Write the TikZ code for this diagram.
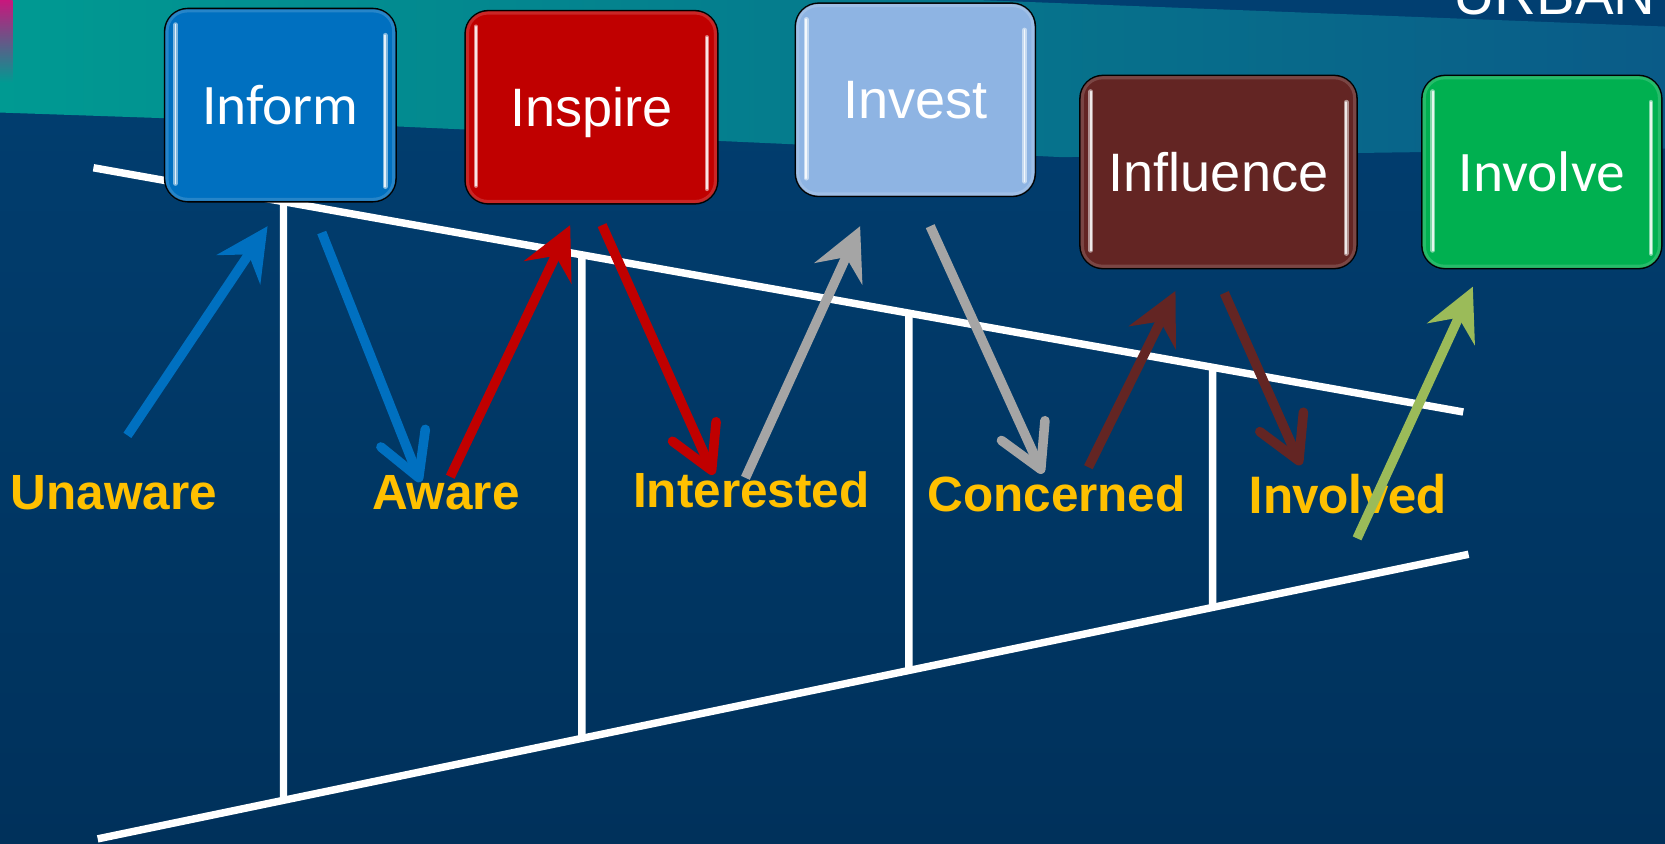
\documentclass[tikz,border=0pt]{standalone}
\usepackage{fontspec}
\setmainfont{Liberation Sans}
\newfontfamily\calibri{Carlito}
\usetikzlibrary{arrows.meta,calc}

\definecolor{navytop}{HTML}{013F71}
\definecolor{navybot}{HTML}{00315B}
\definecolor{tealleft}{HTML}{009A92}
\definecolor{tealmid}{HTML}{007C86}
\definecolor{tealright}{HTML}{0A5B88}
\definecolor{pinkbar}{HTML}{C8177D}
\definecolor{informblue}{HTML}{0070C0}
\definecolor{inspirered}{HTML}{C00000}
\definecolor{investblue}{HTML}{8EB4E3}
\definecolor{influencebrown}{HTML}{632523}
\definecolor{involvegreen}{HTML}{00B050}
\definecolor{arrowgray}{HTML}{A5A5A5}
\definecolor{arrowgreen}{HTML}{9BBB59}
\definecolor{stagegold}{HTML}{FFC000}

\begin{document}
\begin{tikzpicture}[x=0.2mm,y=-0.2mm]
        \tikzstyle{every node}+=[inner sep=0pt]
        \tikzstyle{stagebox}=[draw=black, line width=0.3mm, rounded corners=4.4mm, minimum height=36.4mm, text=white, font=\fontsize{29}{30}\selectfont, text height=20.5pt, text depth=0pt]
        \tikzstyle{glint}=[line width=0.9mm, line cap=round]
        \tikzstyle{stagelabel}=[text=stagegold, font=\fontsize{26.5}{28}\selectfont\bfseries, anchor=base west]
        \tikzstyle{rail}=[white, line width=1.4mm]
        \tikzstyle{rise}=[line width=1.8mm, -{Stealth[length=9.8mm, width=9.8mm, inset=3.4mm]}]
        \tikzstyle{fall}=[line width=1.8mm, -{Straight Barb[length=8mm, width=9mm, round]}]
        \useasboundingbox (0,0) rectangle (1568,794);
        % background
        \shade [top color=navytop, bottom color=navybot] (0,0) rectangle (1568,794);
        \shade [left color=tealleft, middle color=tealmid, right color=tealright] (0,0) -- (920,0) -- (1568,25) -- (1568,140) -- (1000,148) -- (750,136) -- (350,118) -- (0,106) -- cycle;
        \shade [top color=pinkbar, bottom color=tealleft] (0,0) rectangle (12,78);
        \node [text=white, font=\fontsize{31}{31}\selectfont, anchor=base west] (brand) at (1368,14) {URBAN};
        % funnel
        \coordinate (tl) at (88,158);
        \coordinate (tr) at (1378,388);
        \coordinate (bl) at (92,790);
        \coordinate (br) at (1383,522);
        \draw [rail] (tl) -- (tr);
        \draw [rail] (bl) -- (br);
        \foreach \x in {267,548,856,1142}
          \draw [rail] ($(tl)!{(\x-88)/1290}!(tr)$) -- ($(bl)!{(\x-92)/1291}!(br)$);
        % stages
        \node [stagelabel] (unaware) at (10,480) {Unaware};
        \node [stagelabel] (aware) at (350,480) {Aware};
        \node [stagelabel] (interested) at (596,478) {Interested};
        \node [stagelabel] (concerned) at (873,482) {Concerned};
        \node [stagelabel, font=\calibri\fontsize{30}{31}\selectfont\bfseries] (involved) at (1175,484) {Involved};
        % actions
        \node [stagebox, fill=informblue, minimum width=43.6mm, font=\calibri\fontsize{30.7}{31}\selectfont] (inform) at (264,99) {Inform};
        \node [stagebox, fill=inspirered, minimum width=47.6mm] (inspire) at (557,101) {Inspire};
        \node [stagebox, fill=investblue, minimum width=45.2mm] (invest) at (862,94) {Invest};
        \node [stagebox, fill=influencebrown, minimum width=52.2mm] (influence) at (1147.5,162) {Influence};
        \node [stagebox, fill=involvegreen, minimum width=45.2mm, font=\calibri\fontsize{30.7}{31}\selectfont] (involve) at (1452,162) {Involve};
        \foreach \b/\c in {inform/informblue, inspire/inspirered, invest/investblue, influence/influencebrown, involve/involvegreen} {
          \draw [\c!70!white, line width=0.6mm, rounded corners=3.8mm, draw opacity=0.5] ($(\b.north west)+(3,3)$) rectangle ($(\b.south east)+(-3,-3)$);
          \draw [glint, \c!50!white] ($(\b.north west)+(11,16)$) -- ($(\b.south west)+(11,-18)$);
          \draw [glint, \c!50!white] ($(\b.north east)+(-11,26)$) -- ($(\b.south east)+(-11,-15)$);
          \draw [\c!10!white, line width=0.35mm, line cap=round] ($(\b.north west)+(11,16)$) -- ($(\b.south west)+(11,-18)$);
          \draw [\c!10!white, line width=0.35mm, line cap=round] ($(\b.north east)+(-11,26)$) -- ($(\b.south east)+(-11,-15)$);
        }
        % arrows
        \coordinate (unaware-out) at (120,410);
        \coordinate (inform-in) at (252,213);
        \coordinate (inform-out) at (303,219);
        \coordinate (aware-in) at (396,454);
        \coordinate (aware-out) at (424,449);
        \coordinate (inspire-in) at (537,212);
        \coordinate (inspire-out) at (567,212);
        \coordinate (interested-in) at (672,447);
        \coordinate (interested-out) at (702,450);
        \coordinate (invest-in) at (810,213);
        \coordinate (invest-out) at (876,213);
        \coordinate (concerned-in) at (982,446);
        \coordinate (concerned-out) at (1025,440);
        \coordinate (influence-in) at (1107,274);
        \coordinate (influence-out) at (1153,276);
        \coordinate (involved-in) at (1225,438);
        \coordinate (involved-out) at (1278,507);
        \coordinate (involve-in) at (1387,270);
        \draw [rise, informblue] (unaware-out) -- (inform-in);
        \draw [fall, informblue] (inform-out) -- (aware-in);
        \draw [rise, inspirered] (aware-out) -- (inspire-in);
        \draw [fall, inspirered] (inspire-out) -- (interested-in);
        \draw [rise, arrowgray] (interested-out) -- (invest-in);
        \draw [fall, arrowgray] (invest-out) -- (concerned-in);
        \draw [rise, influencebrown] (concerned-out) -- (influence-in);
        \draw [fall, influencebrown] (influence-out) -- (involved-in);
        \draw [rise, arrowgreen] (involved-out) -- (involve-in);
\end{tikzpicture}
\end{document}
